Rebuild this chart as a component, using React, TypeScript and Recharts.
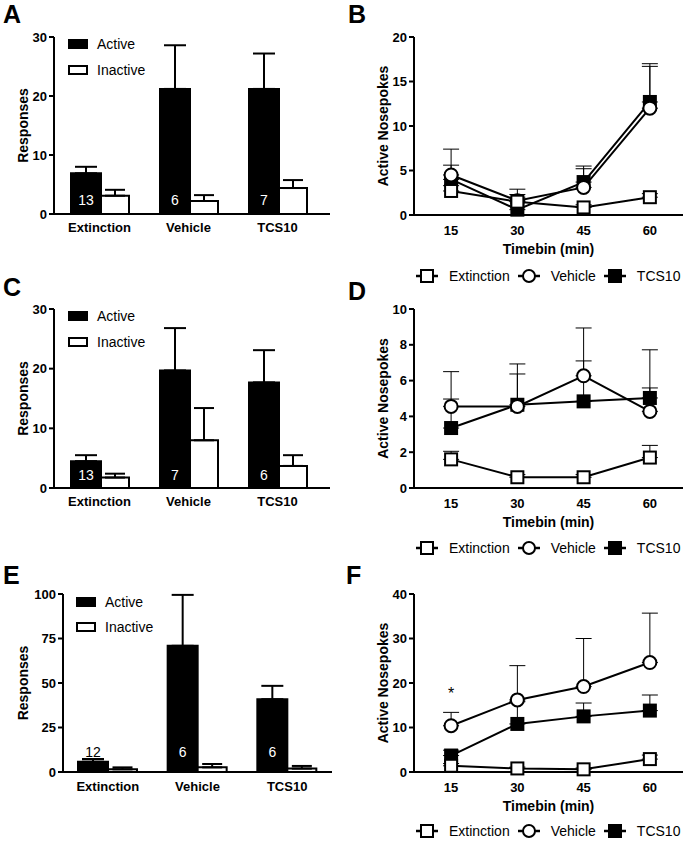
import React from "react";
import { BarChart, Bar, LineChart, Line, XAxis, YAxis, ErrorBar, LabelList, Legend } from "recharts";

const FONT = '"Liberation Sans", Arial, sans-serif';

const groups = ["Extinction", "Vehicle", "TCS10"];
const barSeries = ["Active", "Inactive"];
const timebins = [15, 30, 45, 60];

// panel A
const activeA = [6.9, 21.2, 21.2];
const activeSemA = [1.1, 7.4, 6.0];
const inactiveA = [3.1, 2.2, 4.4];
const inactiveSemA = [1.0, 1.0, 1.35];
const nA = [13, 6, 7];

// panel B
const extB = [2.7, 1.5, 0.85, 2.0];
const extSemB = [0.6, 0.5, 0.3, 0.4];
const vehB = [4.5, 1.6, 3.1, 12.0];
const vehSemB = [2.9, 1.3, 2.1, 4.7];
const tcsB = [4.0, 0.6, 3.7, 12.7];
const tcsSemB = [1.6, 1.7, 1.8, 4.3];

// panel C
const activeC = [4.5, 19.7, 17.7];
const activeSemC = [1.0, 7.1, 5.4];
const inactiveC = [1.75, 8.0, 3.7];
const inactiveSemC = [0.65, 5.4, 1.8];
const nC = [13, 7, 6];

// panel D
const extD = [1.6, 0.6, 0.6, 1.7];
const extSemD = [0.45, 0.15, 0.15, 0.68];
const vehD = [4.56, 4.56, 6.27, 4.28];
const vehSemD = [1.94, 2.37, 2.67, 3.44];
const tcsD = [3.35, 4.65, 4.84, 5.03];
const tcsSemD = [1.62, 1.72, 2.26, 0.56];

// panel E
const activeE = [5.8, 70.9, 40.9];
const activeSemE = [1.5, 28.6, 7.5];
const inactiveE = [1.5, 2.6, 1.9];
const inactiveSemE = [1.1, 1.9, 1.5];
const nE = [12, 6, 6];

// panel F
const extF = [1.4, 0.8, 0.6, 2.9];
const extSemF = [0.5, 0.3, 0.3, 0.9];
const vehF = [10.4, 16.2, 19.2, 24.6];
const vehSemF = [3.0, 7.7, 10.8, 11.1];
const tcsF = [3.7, 10.8, 12.5, 13.8];
const tcsSemF = [1.2, 5.0, 3.0, 3.5];
const sigF = ["*", "", "", ""];

const barRows = (act: number[], actSem: number[], inact: number[], inactSem: number[], n: number[]) =>
  groups.map((g, i) => ({
    group: g,
    active: act[i],
    activeErr: [0, actSem[i]],
    inactive: inact[i],
    inactiveErr: [0, inactSem[i]],
    n: n[i],
  }));

const lineRows = (
  ext: number[], extSem: number[], veh: number[], vehSem: number[], tcs: number[], tcsSem: number[], sig?: string[]
) =>
  timebins.map((t, i) => ({
    t,
    ext: ext[i],
    extErr: [0, extSem[i]],
    veh: veh[i],
    vehErr: [0, vehSem[i]],
    tcs: tcs[i],
    tcsErr: [0, tcsSem[i]],
    sig: sig ? sig[i] : "",
  }));

const axisLine = { stroke: "#000", strokeWidth: 2 };
const tickStyle = { fill: "#000", fontSize: 13, fontWeight: "bold", fontFamily: FONT };

const yTitle = (text: string, cx: number) => (props: any) => {
  const vb = props.viewBox || {};
  const cy = vb.y + vb.height / 2;
  return (
    <text x={cx} y={cy} dy="0.35em" transform={`rotate(-90 ${cx} ${cy})`} textAnchor="middle"
      fontSize={14} fontWeight="bold" fontFamily={FONT} fill="#000">{text}</text>
  );
};

const xTitle = (text: string, dy: number) => (props: any) => {
  const vb = props.viewBox || {};
  return (
    <text x={vb.x + vb.width / 2} y={vb.y + dy} dy="0.35em" textAnchor="middle"
      fontSize={14} fontWeight="bold" fontFamily={FONT} fill="#000">{text}</text>
  );
};

const countLabel = (base: number) => (p: any) => {
  const x = Number(p.x), y = Number(p.y), w = Number(p.width), h = Number(p.height);
  const baseline = y + h - base;
  const inside = y < baseline - 12;
  return (
    <text x={x + w / 2} y={baseline} textAnchor="middle" fontSize={14} fontFamily={FONT}
      fill={inside ? "#fff" : "#000"}>{p.value}</text>
  );
};

const starLabel = (p: any) => {
  if (!p.value) return null;
  return (
    <text x={Number(p.x)} y={Number(p.y) - 27} textAnchor="middle" fontSize={16} fontFamily={FONT} fill="#000">{p.value}</text>
  );
};

const squareDot = (fill: string) => (p: any) => {
  const { cx, cy, index } = p;
  if (cx == null || cy == null) return <g key={index} />;
  return <rect key={index} x={cx - 6} y={cy - 6} width={12} height={12} fill={fill} stroke="#000" strokeWidth={2} />;
};
const circleDot = (p: any) => {
  const { cx, cy, index } = p;
  if (cx == null || cy == null) return <g key={index} />;
  return <circle key={index} cx={cx} cy={cy} r={6.5} fill="#fff" stroke="#000" strokeWidth={2} />;
};

const barLegend = (pitch: number, gap: number) => () => (
  <div style={{ fontFamily: FONT, fontSize: 14, color: "#000" }}>
    {barSeries.map((s, i) => (
      <div key={s} style={{ display: "flex", alignItems: "center", height: pitch }}>
        <svg width={20} height={10}>
          <rect x={1} y={1} width={18} height={8} fill={i === 0 ? "#000" : "#fff"} stroke="#000" strokeWidth={2} />
        </svg>
        <span style={{ marginLeft: gap }}>{s}</span>
      </div>
    ))}
  </div>
);

const legendIcon = (name: string) => {
  if (name === "Extinction") return <rect x={5} y={1} width={12} height={12} fill="#fff" stroke="#000" strokeWidth={2} />;
  if (name === "Vehicle") return <circle cx={11} cy={7} r={6} fill="#fff" stroke="#000" strokeWidth={2} />;
  return <rect x={5} y={1} width={12} height={12} fill="#000" stroke="#000" strokeWidth={2} />;
};

const lineLegend = () => (
  <div style={{ display: "flex", alignItems: "center", fontFamily: FONT, fontSize: 14, color: "#000", whiteSpace: "nowrap" }}>
    {groups.map((g) => (
      <div key={g} style={{ display: "flex", alignItems: "center", marginRight: 8 }}>
        <svg width={22} height={14}>
          <line x1={0} y1={7} x2={22} y2={7} stroke="#000" strokeWidth={2.5} />
          {legendIcon(g)}
        </svg>
        <span style={{ marginLeft: 11 }}>{g}</span>
      </div>
    ))}
  </div>
);

function BarPanel(props: any) {
  const { rows, left, top, height, yAxisW, marginTop, marginRight, yMax, yTicks, pad, base, tickMargin, legend, sizes } = props;
  return (
    <div style={{ position: "absolute", left, top }}>
      <BarChart width={343} height={height} data={rows} barGap={0}
        margin={{ top: marginTop, right: marginRight, left: 0, bottom: 0 }}>
        <XAxis dataKey="group" interval={0} tickLine={false} axisLine={axisLine} tick={tickStyle}
          height={36} padding={pad} tickMargin={tickMargin} />
        <YAxis width={yAxisW} domain={[0, yMax]} ticks={yTicks} axisLine={axisLine}
          tickLine={axisLine} tickSize={5} tick={tickStyle} label={{ content: yTitle("Responses", 23) }} />
        <Legend verticalAlign="middle" align="center" layout="vertical"
          wrapperStyle={{ left: legend.left, top: legend.top, width: 120, height: legend.pitch * 2 }}
          content={barLegend(legend.pitch, legend.gap)} />
        <Bar dataKey="active" barSize={sizes[0]} fill="#000" stroke="#000" strokeWidth={2} isAnimationActive={false}>
          <ErrorBar dataKey="activeErr" direction="y" width={11} stroke="#000" strokeWidth={2} />
          <LabelList dataKey="n" content={countLabel(base)} />
        </Bar>
        <Bar dataKey="inactive" barSize={sizes[1]} fill="#fff" stroke="#000" strokeWidth={2} isAnimationActive={false}>
          <ErrorBar dataKey="inactiveErr" direction="y" width={10} stroke="#000" strokeWidth={2} />
        </Bar>
      </BarChart>
    </div>
  );
}

function LinePanel(props: any) {
  const { rows, top, height, marginTop, xAxisH, yMax, yTicks, legendTop } = props;
  return (
    <div style={{ position: "absolute", left: 343, top }}>
      <LineChart width={343} height={height} data={rows}
        margin={{ top: marginTop, right: 3, left: 0, bottom: 0 }}>
        <XAxis dataKey="t" type="number" domain={[6.6, 67.5]} ticks={timebins} tickLine={false}
          axisLine={axisLine} tick={tickStyle} height={xAxisH} tickMargin={5}
          label={{ content: xTitle("Timebin (min)", 34) }} />
        <YAxis width={71} domain={[0, yMax]} ticks={yTicks} axisLine={axisLine} tickLine={axisLine}
          tickSize={5} tick={tickStyle} label={{ content: yTitle("Active Nosepokes", 40) }} />
        <Legend verticalAlign="middle" align="center" layout="horizontal"
          wrapperStyle={{ left: 73, top: legendTop, width: 280, height: 18 }} content={lineLegend} />
        <Line dataKey="tcs" stroke="#000" strokeWidth={2} dot={squareDot("#000")} isAnimationActive={false}>
          <ErrorBar dataKey="tcsErr" direction="y" width={8} stroke="#000" strokeWidth={1} />
        </Line>
        <Line dataKey="veh" stroke="#000" strokeWidth={2} dot={circleDot} isAnimationActive={false}>
          <ErrorBar dataKey="vehErr" direction="y" width={8} stroke="#000" strokeWidth={1} />
          <LabelList dataKey="sig" content={starLabel} />
        </Line>
        <Line dataKey="ext" stroke="#000" strokeWidth={2} dot={squareDot("#fff")} isAnimationActive={false}>
          <ErrorBar dataKey="extErr" direction="y" width={8} stroke="#000" strokeWidth={1} />
        </Line>
      </LineChart>
    </div>
  );
}

const letter = (ch: string, left: number, top: number) => (
  <div key={ch} style={{ position: "absolute", left, top, fontFamily: FONT, fontWeight: "bold", fontSize: 25, lineHeight: "25px", color: "#000" }}>{ch}</div>
);

export default function App() {
  return (
    <div style={{ position: "absolute", left: 0, top: 0, width: 686, height: 841, background: "#fff", overflow: "hidden" }}>
      <BarPanel rows={barRows(activeA, activeSemA, inactiveA, inactiveSemA, nA)} left={0} top={0} height={250}
        yAxisW={54} marginTop={37} marginRight={13} yMax={30} yTicks={[0, 10, 20, 30]} pad={{ left: 1, right: 8 }}
        base={9} tickMargin={3} legend={{ left: 68, top: 31, pitch: 26, gap: 9 }} sizes={[30, 28]} />
      <LinePanel rows={lineRows(extB, extSemB, vehB, vehSemB, tcsB, tcsSemB)} top={0} height={290} marginTop={37}
        xAxisH={75} yMax={20} yTicks={[0, 5, 10, 15, 20]} legendTop={268} />
      <BarPanel rows={barRows(activeC, activeSemC, inactiveC, inactiveSemC, nC)} left={0} top={270} height={254}
        yAxisW={54} marginTop={39} marginRight={13} yMax={30} yTicks={[0, 10, 20, 30]} pad={{ left: 1, right: 8 }}
        base={8} tickMargin={3} legend={{ left: 68, top: 33, pitch: 26, gap: 9 }} sizes={[30, 28]} />
      <LinePanel rows={lineRows(extD, extSemD, vehD, vehSemD, tcsD, tcsSemD)} top={270} height={290} marginTop={39}
        xAxisH={72} yMax={10} yTicks={[0, 2, 4, 6, 8, 10]} legendTop={270} />
      <BarPanel rows={barRows(activeE, activeSemE, inactiveE, inactiveSemE, nE)} left={0} top={560} height={248}
        yAxisW={63} marginTop={34} marginRight={11} yMax={100} yTicks={[0, 25, 50, 75, 100]} pad={{ left: 0, right: 0 }}
        base={15} tickMargin={4} legend={{ left: 76, top: 29, pitch: 25, gap: 9 }} sizes={[30, 29]} />
      <LinePanel rows={lineRows(extF, extSemF, vehF, vehSemF, tcsF, tcsSemF, sigF)} top={560} height={281} marginTop={34}
        xAxisH={69} yMax={40} yTicks={[0, 10, 20, 30, 40]} legendTop={263} />
      {letter("A", 3, 2)}
      {letter("B", 348, 2)}
      {letter("C", 3, 275)}
      {letter("D", 348, 279)}
      {letter("E", 3, 563)}
      {letter("F", 346, 563)}
    </div>
  );
}
